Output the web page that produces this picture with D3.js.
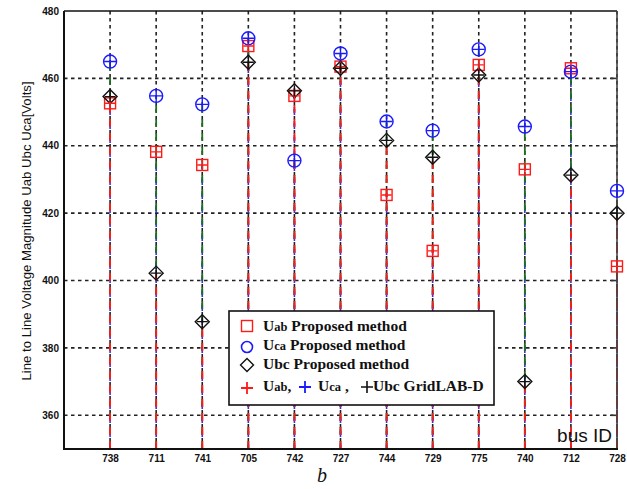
<!DOCTYPE html>
<html><head><meta charset="utf-8">
<script src="https://cdn.jsdelivr.net/npm/d3@7"></script>
<style>body{margin:0;background:#fff}svg{display:block}</style>
</head><body>
<script>
const categories = ["738","711","741","705","742","727","744","729","775","740","712","728"];
const uab = [452.6, 438.2, 434.3, 469.6, 454.8, 463.5, 425.4, 408.8, 464.0, 433.0, 463.0, 404.2];
const uca = [465.0, 454.8, 452.3, 471.9, 435.6, 467.4, 447.2, 444.5, 468.6, 445.7, 462.0, 426.6];
const ubc = [454.6, 402.2, 387.8, 464.8, 456.3, 463.0, 441.6, 436.6, 461.0, 370.0, 431.3, 420.0];
const gridUab = uab, gridUca = uca, gridUbc = ubc;
const yTicks = [360, 380, 400, 420, 440, 460, 480];

const W = 627, H = 489;
const L = 64, R = 617, T = 11, B = 449;
const svg = d3.select("body").append("svg").attr("width", W).attr("height", H);
const x = d3.scaleLinear().domain([0, categories.length]).range([L, R]);
const xi = i => x(i + 1);
const y = d3.scaleLinear().domain([350, 480]).range([B, T]);

// grid
const g = svg.append("g");
yTicks.filter(v => v < 480).forEach(v => {
  g.append("line").attr("x1", L).attr("x2", R).attr("y1", y(v)).attr("y2", y(v))
   .attr("stroke", "#222").attr("stroke-width", 1.6).attr("stroke-dasharray", "3.5,3.5");
});
categories.forEach((c, i) => {
  g.append("line").attr("x1", xi(i)).attr("x2", xi(i)).attr("y1", T).attr("y2", B)
   .attr("stroke", "#222").attr("stroke-width", 1.6).attr("stroke-dasharray", "3.5,3.5");
});

// stems
const stems = svg.append("g");
function stem(vals, color, w, dash, off) {
  vals.forEach((v, i) => {
    stems.append("line").attr("x1", xi(i)).attr("x2", xi(i)).attr("y1", B).attr("y2", y(v))
      .attr("stroke", color).attr("stroke-width", w).attr("stroke-dasharray", dash)
      .attr("stroke-dashoffset", off);
  });
}
stem(gridUab, "#3030ff", 1.6, "8,6", 2);
stem(gridUca, "#1f6e1f", 1.8, "8,6", 0);
stem(gridUbc, "#ff1a1a", 1.8, "8,6", 0);

// axes frame
const ax = svg.append("g");
const yAxis = d3.axisLeft(y).tickValues(yTicks).tickSize(0).tickPadding(5);
const yg = ax.append("g").attr("transform", `translate(${L},0)`).call(yAxis);
yg.select(".domain").remove();
yg.selectAll("text").attr("font-family", "Arial, 'Liberation Sans', sans-serif")
  .attr("font-size", 10).attr("font-weight", "bold").attr("fill", "#111");
const xAxis = d3.axisBottom(x).tickValues(categories.map((c, i) => i + 1))
  .tickFormat(d => categories[d - 1]).tickSize(0).tickPadding(6);
const xg = ax.append("g").attr("transform", `translate(0,${B})`).call(xAxis);
xg.select(".domain").remove();
xg.selectAll("text").attr("font-family", "Arial, 'Liberation Sans', sans-serif")
  .attr("font-size", 10).attr("font-weight", "bold").attr("fill", "#111");
// right inward ticks
yTicks.filter(v => v < 480).forEach(v => {
  ax.append("line").attr("x1", R - 6).attr("x2", R).attr("y1", y(v)).attr("y2", y(v))
    .attr("stroke", "#333").attr("stroke-width", 1.6);
});
ax.append("line").attr("x1", L).attr("x2", R).attr("y1", T).attr("y2", T).attr("stroke", "#111").attr("stroke-width", 1.6);
ax.append("line").attr("x1", R).attr("x2", R).attr("y1", T).attr("y2", B).attr("stroke", "#444").attr("stroke-width", 1.6);
ax.append("line").attr("x1", L).attr("x2", L).attr("y1", T).attr("y2", B + 1).attr("stroke", "#111").attr("stroke-width", 2);
ax.append("line").attr("x1", L).attr("x2", R + 1).attr("y1", B).attr("y2", B).attr("stroke", "#111").attr("stroke-width", 2);

// markers
const mk = svg.append("g");
function plus(cx, cy, s, color, w) {
  mk.append("path").attr("d", `M${cx - s},${cy}H${cx + s}M${cx},${cy - s}V${cy + s}`)
    .attr("stroke", color).attr("stroke-width", w).attr("fill", "none");
}
function square(cx, cy, color) {
  mk.append("rect").attr("x", cx - 5.5).attr("y", cy - 5.5).attr("width", 11).attr("height", 11)
    .attr("fill", "none").attr("stroke", color).attr("stroke-width", 1.4);
}
function circle(cx, cy, color) {
  mk.append("circle").attr("cx", cx).attr("cy", cy).attr("r", 6.5)
    .attr("fill", "none").attr("stroke", color).attr("stroke-width", 1.4);
}
function diamond(cx, cy, color) {
  mk.append("path").attr("d", `M${cx},${cy - 7}L${cx + 7},${cy}L${cx},${cy + 7}L${cx - 7},${cy}Z`)
    .attr("fill", "none").attr("stroke", color).attr("stroke-width", 1.4);
}
categories.forEach((c, i) => {
  const cx = xi(i);
  square(cx, y(uab[i]), "#ff1a1a");
  circle(cx, y(uca[i]), "#1a1aff");
  diamond(cx, y(ubc[i]), "#111");
  plus(cx, y(gridUab[i]), 5, "#ff1a1a", 1.4);
  plus(cx, y(gridUca[i]), 6, "#1a1aff", 1.4);
  plus(cx, y(gridUbc[i]), 5.5, "#111", 1.4);
});

// legend
const lg = svg.append("g");
lg.append("rect").attr("x", 229).attr("y", 311).attr("width", 265).attr("height", 94)
  .attr("fill", "#fff").attr("stroke", "#111").attr("stroke-width", 1.6);
const serif = "'Liberation Serif', 'Times New Roman', serif";
function ltext(xp, yp, parts) {
  const t = lg.append("text").attr("x", xp).attr("y", yp).attr("font-family", serif)
    .attr("font-weight", "bold").attr("font-size", 15.5).attr("fill", "#111");
  parts.forEach(p => {
    const s = t.append("tspan").text(p.t);
    if (p.small) s.attr("font-size", 12.5);
    if (p.fill) s.attr("fill", p.fill);
  });
  return t;
}
const lx = 247;
lg.append("rect").attr("x", lx - 5.5).attr("y", 326 - 5.5).attr("width", 11).attr("height", 11)
  .attr("fill", "none").attr("stroke", "#ff1a1a").attr("stroke-width", 1.4);
lg.append("circle").attr("cx", lx).attr("cy", 347).attr("r", 5.5)
  .attr("fill", "none").attr("stroke", "#1a1aff").attr("stroke-width", 1.6);
lg.append("path").attr("d", `M${lx},${365 - 6.5}L${lx + 6.5},365L${lx},${365 + 6.5}L${lx - 6.5},365Z`)
  .attr("fill", "none").attr("stroke", "#111").attr("stroke-width", 1.4);
ltext(263, 331, [{t: "U"}, {t: "ab", small: true}, {t: " Proposed method"}]);
ltext(263, 350, [{t: "U"}, {t: "ca", small: true}, {t: " Proposed method"}]);
ltext(263, 369, [{t: "U"}, {t: "bc"}, {t: " Proposed method"}]);
lg.append("path").attr("d", `M${lx - 6},388H${lx + 6}M${lx},382V394`).attr("stroke", "#ff1a1a").attr("stroke-width", 1.8);
lg.append("path").attr("d", `M299,387H311M305,381V393`).attr("stroke", "#1a1aff").attr("stroke-width", 1.8);
lg.append("path").attr("d", `M361,387H373M367,381V393`).attr("stroke", "#111").attr("stroke-width", 1.6);
ltext(263, 391, [{t: "U"}, {t: "ab", small: true}, {t: ","}]);
ltext(318, 391, [{t: "U"}, {t: "ca", small: true}, {t: " ,"}]);
ltext(373, 391, [{t: "Ubc GridLAB-D"}]);

// axis label
svg.append("text").attr("transform", `translate(31,231) rotate(-90)`).attr("text-anchor", "middle")
  .attr("font-family", "Arial, 'Liberation Sans', sans-serif").attr("font-size", 13.2).attr("fill", "#111")
  .text("Line to Line Voltage Magnitude Uab Ubc Uca[Volts]");
svg.append("text").attr("x", 612).attr("y", 442).attr("text-anchor", "end")
  .attr("font-family", "Arial, 'Liberation Sans', sans-serif").attr("font-size", 19).attr("fill", "#111")
  .text("bus ID");
svg.append("text").attr("x", 322).attr("y", 482).attr("text-anchor", "middle")
  .attr("font-family", serif).attr("font-style", "italic").attr("font-size", 20).attr("fill", "#111")
  .text("b");
</script>
</body></html>
